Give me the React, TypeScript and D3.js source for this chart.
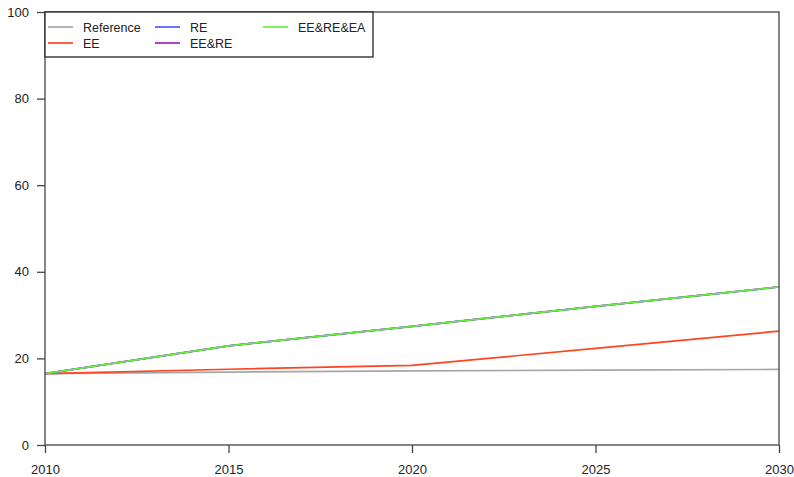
import React, { useEffect, useRef } from "react";
import * as d3 from "d3";

// values (share, %)
const years = [2010, 2015, 2020, 2025, 2030];
const reference = [16.5, 16.85, 17.1, 17.3, 17.45];
const ee = [16.5, 17.5, 18.4, 22.3, 26.3];
const re = [16.5, 22.9, 27.4, 32.0, 36.5];
const eeRe = [16.5, 22.9, 27.4, 32.0, 36.5];
const eeReEa = [16.5, 22.9, 27.4, 32.0, 36.5];

const yTicks = [0, 20, 40, 60, 80, 100];
const xTicks = [2010, 2015, 2020, 2025, 2030];

const seriesNames = ["Reference", "EE", "RE", "EE&RE", "EE&RE&EA"];
const seriesColors = ["#a6a6a6", "#ff4422", "#4d5dff", "#a020c0", "#66ee44"];
const seriesValues = [reference, ee, re, eeRe, eeReEa];

const W = 794, H = 477;
const margin = { top: 12, right: 15, bottom: 32, left: 45 };

const App: React.FC = () => {
  const ref = useRef<SVGSVGElement>(null);

  useEffect(() => {
    const svg = d3.select(ref.current);
    svg.selectAll("*").remove();

    const x = d3.scaleLinear().domain([2010, 2030]).range([margin.left, W - margin.right]);
    const y = d3.scaleLinear().domain([0, 100]).range([H - margin.bottom, margin.top]);
    const axisColor = "#444";
    const font = "Liberation Sans, Arial, sans-serif";

    // lines, first to last so the green one ends on top
    const line = d3.line<number>().x((_, i) => x(years[i])).y(d => y(d));
    seriesValues.forEach((vals, i) => {
      svg.append("path")
        .attr("d", line(vals))
        .attr("fill", "none")
        .attr("stroke", seriesColors[i])
        .attr("stroke-width", 1.7);
    });

    // frame
    svg.append("rect")
      .attr("x", margin.left).attr("y", margin.top)
      .attr("width", W - margin.left - margin.right)
      .attr("height", H - margin.top - margin.bottom)
      .attr("fill", "none").attr("stroke", axisColor).attr("stroke-width", 1.3);

    const yAxis = d3.axisLeft(y).tickValues(yTicks).tickSize(8).tickPadding(8).tickSizeOuter(0);
    const gy = svg.append("g").attr("transform", `translate(${margin.left},0)`).call(yAxis);
    const xAxis = d3.axisBottom(x).tickValues(xTicks).tickFormat(d3.format("d")).tickSize(8).tickPadding(12).tickSizeOuter(0);
    const gx = svg.append("g").attr("transform", `translate(0,${H - margin.bottom})`).call(xAxis);
    [gx, gy].forEach(g => {
      g.select(".domain").remove();
      g.selectAll("line").attr("stroke", axisColor).attr("stroke-width", 1.3);
      g.selectAll("text").attr("fill", "#222").attr("font-size", 13).attr("font-family", font);
    });

    // legend
    const lg = svg.append("g");
    lg.append("rect")
      .attr("x", margin.left).attr("y", margin.top)
      .attr("width", 328).attr("height", 45)
      .attr("fill", "white").attr("stroke", "#222").attr("stroke-width", 1.3);
    const colX = [48, 155, 263];
    seriesNames.forEach((name, i) => {
      const col = Math.floor(i / 2);
      const row = i % 2;
      const ly = 27 + row * 16;
      lg.append("line")
        .attr("x1", colX[col]).attr("x2", colX[col] + 25)
        .attr("y1", ly).attr("y2", ly)
        .attr("stroke", seriesColors[i]).attr("stroke-width", 1.7);
      lg.append("text")
        .attr("x", colX[col] + 35).attr("y", ly + 4.5)
        .attr("font-size", 12.5).attr("font-family", font).attr("fill", "#222")
        .text(name);
    });
  }, []);

  return (
    <svg ref={ref} width={W} height={H}
      style={{ position: "absolute", left: 0, top: 0, background: "white" }} />
  );
};

export default App;
